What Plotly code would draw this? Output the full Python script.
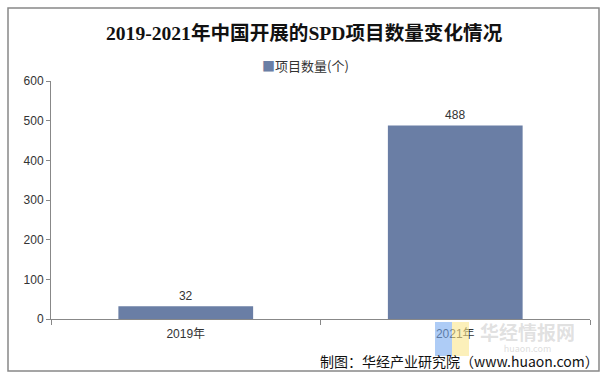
import plotly.graph_objects as go

categories = ["2019年", "2021年"]
values = [32, 488]
series_name = "项目数量(个)"
y_ticks = [0, 100, 200, 300, 400, 500, 600]

W, H = 607, 384
L, R, T, B = 51, 17, 81, 65
BAR_COLOR = "#6A7EA5"

fig = go.Figure()
fig.add_trace(go.Bar(
    x=categories, y=values, name=series_name,
    marker=dict(color=BAR_COLOR, line=dict(width=0)),
    width=0.5,
    text=[str(v) for v in values], textposition="outside",
    textfont=dict(size=12, color="#333333", family="Liberation Sans, Arial"),
    cliponaxis=False, showlegend=False,
))


def xp(x):
    return (x - L) / (W - L - R)


def yp(y):
    return (H - B - y) / (H - T - B)


fig.update_layout(
    width=W, height=H,
    margin=dict(l=L, r=R, t=T, b=B, autoexpand=False),
    paper_bgcolor="white", plot_bgcolor="white",
    showlegend=False,
    bargap=0.5,
    xaxis=dict(showgrid=False, showline=True, linecolor="#888888", linewidth=1,
               ticks="outside", tickson="boundaries", ticklen=5, tickcolor="#888888",
               ticklabelstandoff=4,
               tickfont=dict(size=12, color="#333333", family="Liberation Sans, Noto Sans CJK SC")),
    yaxis=dict(range=[0, 600], tickvals=y_ticks, showgrid=False, showline=True,
               linecolor="#888888", linewidth=1, ticks="outside", ticklen=4,
               tickcolor="#888888", zeroline=False,
               tickfont=dict(size=12, color="#333333", family="Liberation Sans, Arial")),
    font=dict(family="Noto Sans CJK SC"),
)

# outer border
fig.add_shape(type="rect", xref="paper", yref="paper",
              x0=xp(8), x1=xp(599), y0=yp(371), y1=yp(8),
              line=dict(color="#888888", width=1.5), fillcolor="rgba(0,0,0,0)", layer="below")

# title
fig.add_annotation(text="<b>2019-2021年中国开展的SPD项目数量变化情况</b>", xref="paper", yref="paper",
                   x=xp(304), y=yp(33), xanchor="center", yanchor="middle", showarrow=False,
                   font=dict(size=19.6, color="#111111", family="Liberation Serif, Noto Sans CJK SC"))

# legend (series name with colour key)
fig.add_annotation(text=f'<span style="color:{BAR_COLOR}">■</span>{series_name}', xref="paper", yref="paper",
                   x=xp(305), y=yp(65), xanchor="center", yanchor="middle", showarrow=False,
                   font=dict(size=13, color="#333333", family="Noto Sans CJK SC"))

# watermark logo
fig.add_shape(type="rect", xref="paper", yref="paper", x0=xp(435), x1=xp(452), y0=yp(356), y1=yp(322),
              line=dict(width=0), fillcolor="rgba(120,170,240,0.6)", layer="above")
fig.add_shape(type="rect", xref="paper", yref="paper", x0=xp(452), x1=xp(469), y0=yp(356), y1=yp(322),
              line=dict(width=0), fillcolor="rgba(250,230,140,0.6)", layer="above")
fig.add_annotation(
    text='<span style="font-size:19px;color:rgba(170,170,170,0.6)"><b>华经情报网</b></span><br>huaon.com',
    xref="paper", yref="paper", x=xp(479), y=yp(317),
    xanchor="left", yanchor="top", align="center", showarrow=False, borderpad=0,
    font=dict(size=9, color="rgba(200,200,200,0.6)", family="Noto Sans CJK SC"))

# source
fig.add_annotation(text="制图：华经产业研究院（www.huaon.com）", xref="paper", yref="paper",
                   x=xp(601), y=yp(361), xanchor="right", yanchor="middle", showarrow=False,
                   font=dict(size=14, color="#111111", family="Noto Sans CJK SC"))

fig.write_html("out.html", post_script="document.body.style.margin='0';",
               config={"displayModeBar": False})
